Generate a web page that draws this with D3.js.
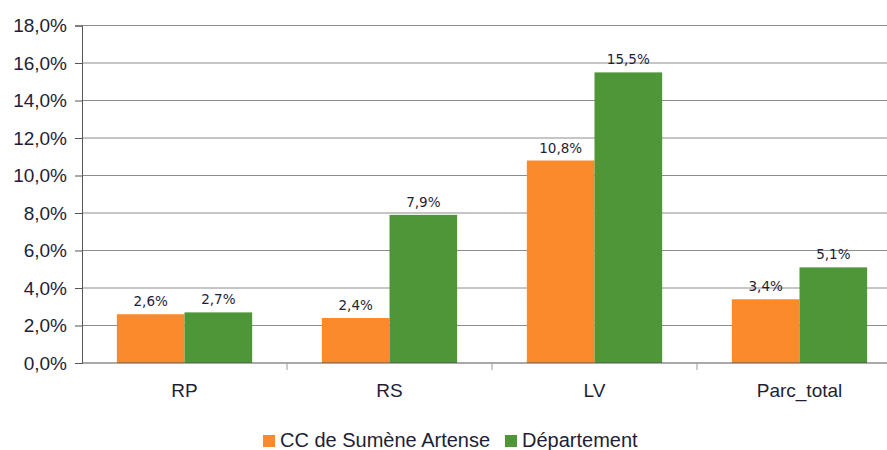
<!DOCTYPE html>
<html>
<head>
<meta charset="utf-8">
<script src="https://cdn.jsdelivr.net/npm/d3@7"></script>
<style>
  body { margin: 0; background: #fff; }
  svg text { font-family: "Liberation Sans", Arial, sans-serif; fill: #1e1e36; }
</style>
</head>
<body>
<svg id="chart" viewBox="0 0 887 450" width="887" height="450"></svg>
<script>
const categories = ["RP", "RS", "LV", "Parc_total"]
const seriesNames = ["CC de Sumène Artense", "Département"]
const ccValues = [2.6, 2.4, 10.8, 3.4]
const deptValues = [2.7, 7.9, 15.5, 5.1]
const yTicks = [0, 2, 4, 6, 8, 10, 12, 14, 16, 18]
const colors = ["#fb8a2c", "#4f9638"]

let svg = d3.select("#chart")
let fmt = v => v.toFixed(1).replace(".", ",") + "%"

let x = d3.scaleBand()
    .domain(categories)
    .range([82, 902])
    .paddingInner(0.34)
    .paddingOuter(0.17)

let xs = d3.scaleBand()
    .domain([0, 1])
    .range([0, x.bandwidth()])

let y = d3.scaleLinear()
    .domain([0, 18])
    .range([363, 25.5])

// gridlines
svg.append("g")
    .selectAll("line")
    .data(yTicks.slice(1))
    .enter()
    .append("line")
    .attr("x1", 82).attr("x2", 887)
    .attr("y1", d => y(d)).attr("y2", d => y(d))
    .attr("stroke", "#8c8c8c")
    .attr("stroke-width", 1)

// y axis
let yAxis = svg.append("g")
    .attr("transform", "translate(82,0)")
    .call(d3.axisLeft(y).tickValues(yTicks).tickFormat(fmt).tickSize(7).tickPadding(8))
yAxis.select(".domain").attr("stroke", "#555")
yAxis.selectAll(".tick line").attr("stroke", "#555")
yAxis.selectAll("text").style("font-size", "19px").attr("fill", "#1e1e36")

// bars
let groups = svg.append("g")
    .selectAll("g")
    .data(categories.map((c, i) => ({cat: c, vals: [ccValues[i], deptValues[i]]})))
    .enter()
    .append("g")
    .attr("transform", d => `translate(${x(d.cat)},0)`)

groups.selectAll("rect")
    .data(d => d.vals)
    .enter()
    .append("rect")
    .attr("x", (d, i) => xs(i))
    .attr("width", xs.bandwidth())
    .attr("y", d => y(d))
    .attr("height", d => y(0) - y(d))
    .attr("fill", (d, i) => colors[i])

groups.selectAll("text")
    .data(d => d.vals)
    .enter()
    .append("text")
    .attr("x", (d, i) => xs(i) + xs.bandwidth() / 2)
    .attr("y", d => y(d) - 8)
    .attr("text-anchor", "middle")
    .style("font-family", "'DejaVu Sans', Verdana, sans-serif")
    .style("font-size", "13.5px")
    .text(fmt)

// x axis
svg.append("line")
    .attr("x1", 82).attr("x2", 887)
    .attr("y1", y(0)).attr("y2", y(0))
    .attr("stroke", "#555")
svg.append("g")
    .selectAll("line")
    .data(categories.slice(1))
    .enter()
    .append("line")
    .attr("x1", d => x(d) - x.step() * x.paddingInner() / 2)
    .attr("x2", d => x(d) - x.step() * x.paddingInner() / 2)
    .attr("y1", y(0)).attr("y2", y(0) + 7)
    .attr("stroke", "#999")

svg.append("g")
    .selectAll("text")
    .data(categories)
    .enter()
    .append("text")
    .attr("x", d => x(d) + x.bandwidth() / 2)
    .attr("y", 397)
    .attr("text-anchor", "middle")
    .style("font-size", "19px")
    .text(d => d)

// legend
let legendX = [263, 505]
let legend = svg.append("g")
    .selectAll("g")
    .data(seriesNames)
    .enter()
    .append("g")
    .attr("transform", (d, i) => `translate(${legendX[i]},435)`)
legend.append("rect")
    .attr("width", 12).attr("height", 12)
    .attr("fill", (d, i) => colors[i])
legend.append("text")
    .attr("x", 17)
    .attr("y", 12)
    .style("font-size", "20px")
    .text(d => d)
</script>
</body>
</html>
